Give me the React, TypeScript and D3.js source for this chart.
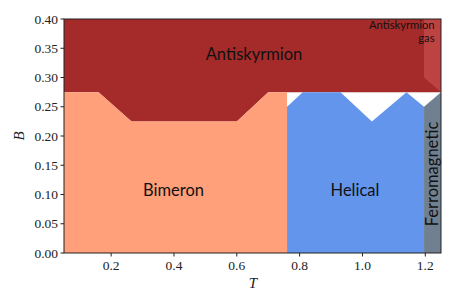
import React from "react";
import * as d3 from "d3";

// phase boundaries, as [T, B]
const bimeronTop: [number, number][] = [
  [0.05, 0.275], [0.16, 0.275], [0.265, 0.225], [0.6, 0.225], [0.7, 0.275], [0.76, 0.275],
];
const helicalTop: [number, number][] = [
  [0.76, 0.25], [0.81, 0.275], [0.93, 0.275], [1.03, 0.225], [1.14, 0.275], [1.196, 0.25],
];
const ferroTop: [number, number][] = [[1.196, 0.25], [1.25, 0.275]];
const gasEdge: [number, number][] = [[1.196, 0.4], [1.196, 0.3], [1.25, 0.275], [1.25, 0.4]];

const xTicks = [0.2, 0.4, 0.6, 0.8, 1.0, 1.2];
const yTicks = [0, 0.05, 0.1, 0.15, 0.2, 0.25, 0.3, 0.35, 0.4];

const W = 457, H = 305;
const margin = { top: 19, right: 16, bottom: 52, left: 64 };
const serif = "'Liberation Serif', serif";
const sans = "Lato, 'Open Sans', sans-serif";

export default function App() {
  const x = d3.scaleLinear().domain([0.05, 1.25]).range([margin.left, W - margin.right]);
  const y = d3.scaleLinear().domain([0, 0.4]).range([H - margin.bottom, margin.top]);
  const line = d3.line<[number, number]>().x(d => x(d[0])).y(d => y(d[1]));

  const antiskyrmion: [number, number][] = [[0.05, 0.4], ...bimeronTop, [1.25, 0.275], [1.25, 0.4]];
  const bimeron: [number, number][] = [[0.05, 0], ...bimeronTop, [0.76, 0]];
  const helical: [number, number][] = [[0.76, 0], ...helicalTop, [1.196, 0]];
  const ferro: [number, number][] = [[1.196, 0], ...ferroTop, [1.25, 0]];

  const x0 = margin.left, x1 = W - margin.right, y0 = H - margin.bottom, y1 = margin.top;

  return (
    <svg width={W} height={H} style={{ position: "absolute", left: 0, top: 0 }}>
      <rect width={W} height={H} fill="white" />
      <path d={line(antiskyrmion) + "Z"} fill="#a52a2a" />
      <path d={line(gasEdge) + "Z"} fill="#bd4343" />
      <path d={line(bimeron) + "Z"} fill="#ffa07a" />
      <path d={line(helical) + "Z"} fill="#6495ed" />
      <path d={line(ferro) + "Z"} fill="#708090" />

      <text x={254} y={60} textAnchor="middle" fontFamily={sans} fontSize={16.5} fill="#111">Antiskyrmion</text>
      <text x={173.5} y={196} textAnchor="middle" fontFamily={sans} fontSize={16.5} fill="#111">Bimeron</text>
      <text x={355} y={196} textAnchor="middle" fontFamily={sans} fontSize={16.5} fill="#111">Helical</text>
      <text transform={`translate(438,174) rotate(-90)`} textAnchor="middle" fontFamily={sans} fontSize={16.5} fill="#111">Ferromagnetic</text>
      <text x={434.5} y={29} textAnchor="end" fontFamily={sans} fontSize={11.2} fill="#111">Antiskyrmion</text>
      <text x={434.5} y={41.5} textAnchor="end" fontFamily={sans} fontSize={11.2} fill="#111">gas</text>

      <rect x={x0} y={y1} width={x1 - x0} height={y0 - y1} fill="none" stroke="#222" strokeWidth={1} />

      {xTicks.map(t => (
        <g key={t} transform={`translate(${x(t)},${y0})`}>
          <line y2={3.5} stroke="#222" />
          <text y={17} textAnchor="middle" fontFamily={serif} fontSize={13.5} fill="#222">{d3.format(".1f")(t)}</text>
        </g>
      ))}
      {yTicks.map(t => (
        <g key={t} transform={`translate(${x0},${y(t)})`}>
          <line x2={-3.5} stroke="#222" />
          <text x={-6} dy="0.35em" textAnchor="end" fontFamily={serif} fontSize={13.5} fill="#222">{d3.format(".2f")(t)}</text>
        </g>
      ))}
      <text x={253} y={288} textAnchor="middle" fontFamily={serif} fontStyle="italic" fontSize={15} fill="#222">T</text>
      <text transform={`translate(24,136) rotate(-90)`} textAnchor="middle" fontFamily={serif} fontStyle="italic" fontSize={15} fill="#222">B</text>
    </svg>
  );
}
